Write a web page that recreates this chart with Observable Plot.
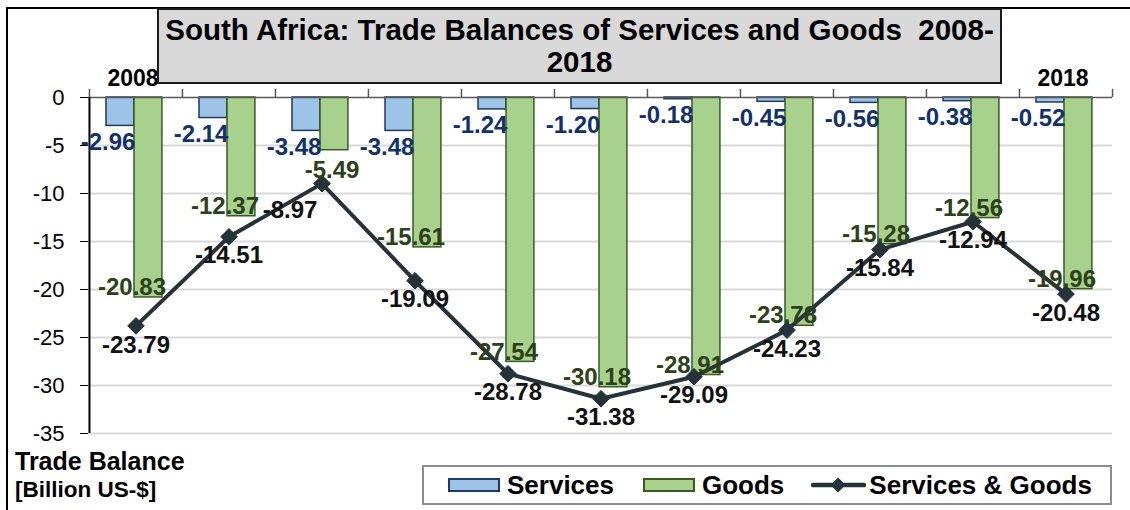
<!DOCTYPE html>
<html><head><meta charset="utf-8">
<script src="https://cdn.jsdelivr.net/npm/d3@7"></script>
<script src="https://cdn.jsdelivr.net/npm/@observablehq/plot@0.6"></script>
<style>
body{margin:0;background:#fff;font-family:"Liberation Sans",Arial,sans-serif}
#wrap{position:relative;width:1130px;height:510px;overflow:hidden;background:#fff}
#wrap > svg{position:absolute;left:0;top:0}
#frame{position:absolute;left:6px;top:7px;width:1200px;height:600px;border-left:2px solid #000;border-top:2px solid #000}
#title{position:absolute;left:157px;top:8px;width:845px;height:76px;background:#d9d9d9;border:2px solid #1a1a1a;box-sizing:border-box;text-align:center;font-weight:bold;font-size:29.5px;line-height:32px;padding-top:4px;color:#000;white-space:pre}
#ylab1{position:absolute;left:15px;top:447px;font-weight:bold;font-size:25px;color:#000}
#ylab2{position:absolute;left:15px;top:477px;font-weight:bold;font-size:22.5px;color:#000}
#legend{position:absolute;left:422px;top:465px;width:690px;height:40px;border:2px solid #8c8c8c;box-sizing:border-box;display:flex;align-items:center;font-weight:bold;font-size:26px;color:#000;white-space:nowrap}
.sw{display:inline-block;width:52px;height:14px;box-sizing:border-box;margin-right:7px;flex:none}
.item{display:flex;align-items:center}
</style>
</head><body>
<div id="wrap">
  <div id="frame"></div>
  <div id="title"></div>
  <div id="ylab1">Trade Balance</div>
  <div id="ylab2">[Billion US-$]</div>
  <div id="legend"></div>
</div>
<script>
const years = ["2008","2009","2010","2011","2012","2013","2014","2015","2016","2017","2018"];
const services = [-2.96,-2.14,-3.48,-3.48,-1.24,-1.20,-0.18,-0.45,-0.56,-0.38,-0.52];
const goods = [-20.83,-12.37,-5.49,-15.61,-27.54,-30.18,-28.91,-23.78,-15.28,-12.56,-19.96];
const total = [-23.79,-14.51,-8.97,-19.09,-28.78,-31.38,-29.09,-24.23,-15.84,-12.94,-20.48];
const yTicks = [0,-5,-10,-15,-20,-25,-30,-35];
const xTickLabels = ["2008","2018"];
const seriesNames = ["Services","Goods","Services & Goods"];
const titleLines = ["South Africa: Trade Balances of Services and Goods  2008-","2018"];

const cServ = "#9dc3e6", cServStroke = "#1f3864", cServText = "#12316b";
const cGood = "#a9d18e", cGoodStroke = "#3a5a24", cGoodText = "#2c4019";
const cLine = "#263238";

const W = 1130, H = 510, mL = 88, mR = 18, mT = 97, mB = 77;
const bw = (W - mL - mR) / years.length;
const rows = years.map((y, i) => ({year: y, services: services[i], goods: goods[i], total: total[i]}));
const fmt = v => v.toFixed(2);
const shortGood = d => d.goods > -10;

const chart = Plot.plot({
  width: W, height: H,
  marginLeft: mL, marginRight: mR, marginTop: mT, marginBottom: mB,
  x: {type: "band", domain: years, padding: 0, axis: null},
  y: {domain: [-35, 0], axis: null, label: null},
  style: {fontFamily: "'Liberation Sans', Arial, sans-serif", background: "transparent", overflow: "visible"},
  marks: [
    Plot.ruleY(yTicks.filter(t => t !== 0), {stroke: "#d9d9d9", strokeWidth: 2}),
    Plot.barY(rows, {x: "year", y1: 0, y2: "services", fill: cServ, stroke: cServStroke, strokeWidth: 1.5, insetLeft: 17, insetRight: bw - 45}),
    Plot.barY(rows, {x: "year", y1: 0, y2: "goods", fill: cGood, stroke: cGoodStroke, strokeWidth: 1.5, insetLeft: 45, insetRight: bw - 73}),
    Plot.ruleY([0], {stroke: "#595959", strokeWidth: 1.5}),
    Plot.ruleX(years, {x: d => d, y1: 0, y2: 0.85, dx: -bw / 2, stroke: "#595959", strokeWidth: 1.5}),
    Plot.ruleX([years[years.length - 1]], {x: d => d, y1: 0, y2: 0.85, dx: bw / 2, stroke: "#595959", strokeWidth: 1.5}),
    Plot.ruleX([years[0]], {x: d => d, dx: -bw / 2, stroke: "#000", strokeWidth: 2}),
    Plot.axisY(yTicks, {anchor: "left", tickSize: 8, tickPadding: 16, fontSize: 22, tickFormat: d => String(d), stroke: "#000", fill: "#000", label: null}),
    Plot.axisX(xTickLabels, {anchor: "top", tickSize: 0, tickPadding: 12, fontSize: 23, fontWeight: "bold", fill: "#000", label: null, dx: -3}),
    Plot.line(rows, {x: "year", y: "total", stroke: cLine, strokeWidth: 4}),
    Plot.dot(rows, {x: "year", y: "total", symbol: "diamond2", r: 7.5, fill: cLine, stroke: cLine, strokeWidth: 1}),
    Plot.text(rows, {x: "year", y: "services", text: d => fmt(d.services), dx: -28, dy: 16, fill: cServText, fontSize: 24, fontWeight: "bold"}),
    Plot.text(rows, {filter: d => !shortGood(d), x: "year", y: "goods", text: d => fmt(d.goods), dx: -4, dy: -10, fill: cGoodText, fontSize: 24, fontWeight: "bold"}),
    Plot.text(rows, {filter: shortGood, x: "year", y: "goods", text: d => fmt(d.goods), dx: 10, dy: 20, fill: cGoodText, fontSize: 24, fontWeight: "bold"}),
    Plot.text(rows, {filter: d => !shortGood(d), x: "year", y: "total", text: d => fmt(d.total), dx: 0, dy: 19, fill: "#111", fontSize: 24, fontWeight: "bold"}),
    Plot.text(rows, {filter: shortGood, x: "year", y: "total", text: d => fmt(d.total), dx: -32, dy: 27, fill: "#111", fontSize: 24, fontWeight: "bold"})
  ]
});
document.getElementById("wrap").insertBefore(chart, document.getElementById("title"));

document.getElementById("title").innerHTML = titleLines.join("<br>");

const legend = document.getElementById("legend");
const swatches = [
  `<span class="sw" style="background:${cServ};border:2px solid ${cServStroke}"></span>`,
  `<span class="sw" style="background:${cGood};border:2px solid ${cGoodStroke}"></span>`,
  `<svg width="55" height="16" style="margin-right:3px;flex:none"><line x1="2" y1="8" x2="53" y2="8" stroke="${cLine}" stroke-width="4.5" stroke-linecap="round"/><path d="M27 0.5 L34.5 8 L27 15.5 L19.5 8 Z" fill="${cLine}"/></svg>`
];
const margins = ["24px", "29px", "27px"];
legend.innerHTML = seriesNames.map((n, i) => `<span class="item" style="margin-left:${margins[i]}">${swatches[i]}${n}</span>`).join("");
</script>
</body></html>
